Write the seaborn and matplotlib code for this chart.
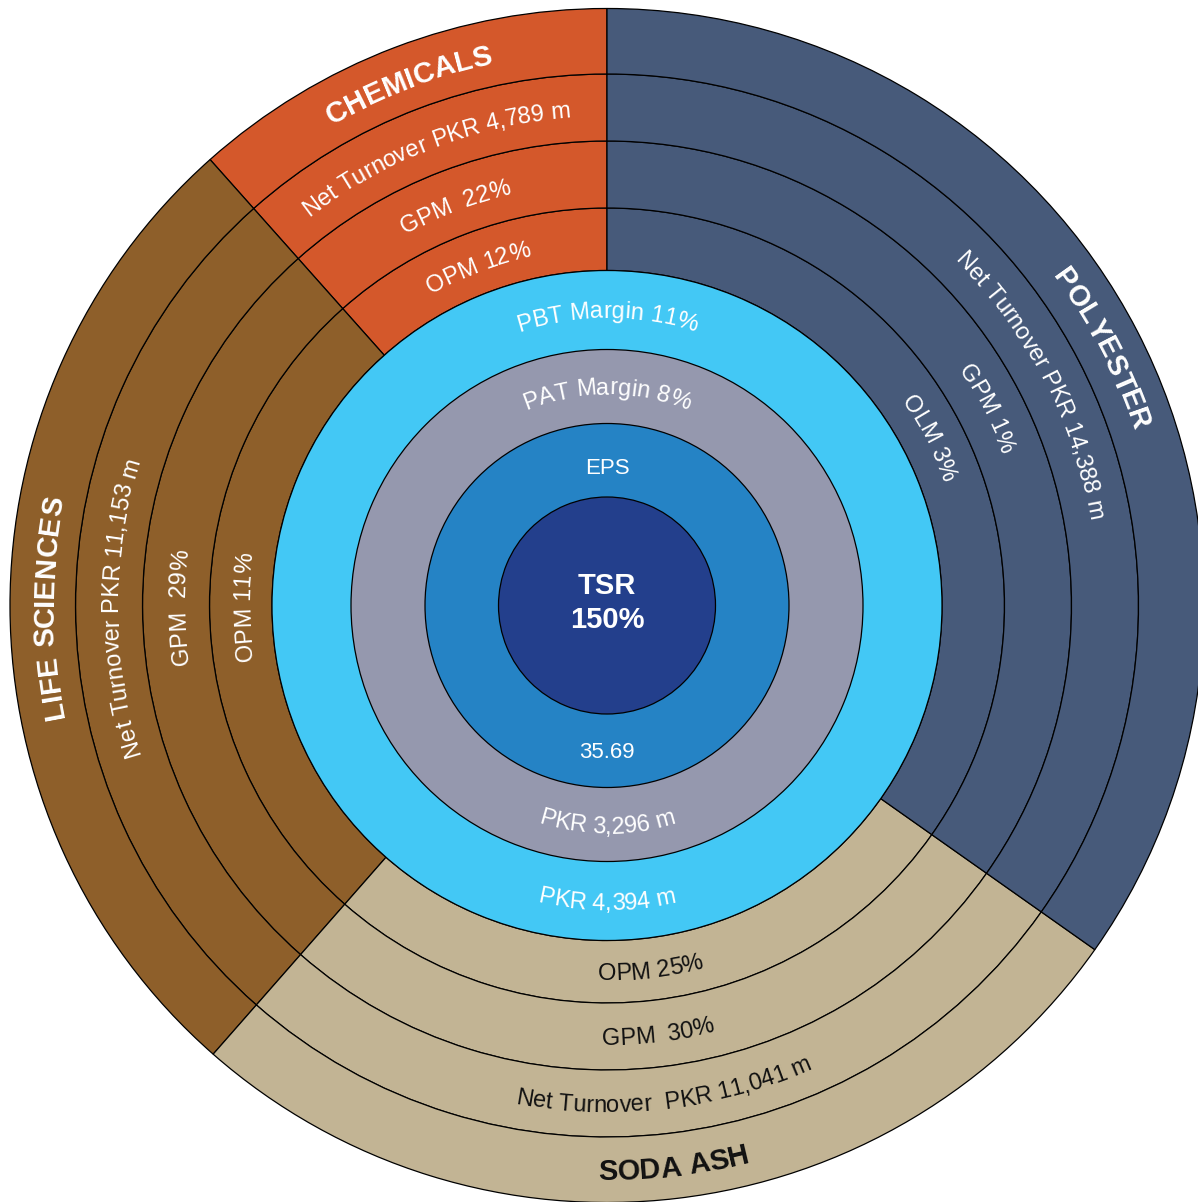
import numpy as np
import matplotlib
matplotlib.use("Agg")
import matplotlib.pyplot as plt
import seaborn as sns
from matplotlib.font_manager import FontProperties, findfont, get_font

# Business segments, sized by net turnover (PKR million)
segments = ["CHEMICALS", "LIFE SCIENCES", "SODA ASH", "POLYESTER"]
net_turnover = [4789, 11153, 11041, 14388]
gross_margin = [22, 29, 30, 1]          # GPM %
operating_margin = [12, 11, 25, 3]      # OPM / OLM %
operating_label = ["OPM", "OPM", "OPM", "OLM"]
gpm_gap = ["  ", "  ", "  ", " "]
turnover_gap = [" ", " ", "  ", " "]

# Group level figures
pbt_margin, pbt_value = 11, 4394
pat_margin, pat_value = 8, 3296
eps_value = 35.69
tsr_value = 150

segment_colors = ["#D4582B", "#8E5F2A", "#C2B494", "#475A7A"]
segment_text = ["white", "white", "#111111", "white"]
core_colors = ["#43C8F5", "#9598AE", "#2583C5", "#233F8C"]   # PBT, PAT, EPS, TSR

DPI = 100
W, H = 1198, 1202
CX, CY = 607, H - 605.5
core_radii = [335, 256, 182, 108.5]
ring_edges = [335, 397.5, 464.5, 531.5, 597]

sns.set_theme(style="white")
plt.rcParams["font.family"] = ["Liberation Sans", "DejaVu Sans"]

fig = plt.figure(figsize=(W / DPI, H / DPI), dpi=DPI)
ax = fig.add_axes([0, 0, 1, 1])
edge = dict(edgecolor="black", linewidth=0.9)

# Segment rings: OPM, GPM, turnover, name
for r_in, r_out in zip(ring_edges[:-1], ring_edges[1:]):
    ax.pie(net_turnover, radius=r_out, center=(CX, CY), startangle=90,
           counterclock=True, colors=segment_colors,
           wedgeprops=dict(width=r_out - r_in, **edge))

# Core discs: PBT, PAT, EPS, TSR
for r, c in zip(core_radii, core_colors):
    ax.pie([1], radius=r, center=(CX, CY), colors=[c], wedgeprops=edge)


def advances(text, fp):
    font = get_font(findfont(fp))
    font.set_size(fp.get_size_in_points(), DPI)
    return np.array([font.load_char(ord(ch)).linearHoriAdvance / 65536 for ch in text])


def arc_text(text, radius, angle, size, color, weight="normal", outward=True):
    """Write text along a circle; outward=True reads clockwise with tops outside."""
    fp = FontProperties(family=["Liberation Sans"], size=size, weight=weight)
    adv = advances(text, fp)
    offsets = np.cumsum(adv) - adv / 2 - adv.sum() / 2
    cap = 0.72 * size * DPI / 72
    rb = radius - cap / 2 if outward else radius + cap / 2
    th0 = np.radians(angle)
    for ch, d in zip(text, offsets):
        if ch == " ":
            continue
        if outward:
            th = th0 - d / rb
            rot = np.degrees(th) - 90
        else:
            th = th0 + d / rb
            rot = np.degrees(th) + 90
        ax.text(CX + rb * np.cos(th), CY + rb * np.sin(th), ch, rotation=rot,
                rotation_mode="anchor", ha="center", va="baseline",
                fontproperties=fp, color=color)


cum = np.concatenate([[0], np.cumsum(net_turnover)])
mids = 90 + 360 * (cum[:-1] + cum[1:]) / 2 / cum[-1]
ring_mid = [(a + b) / 2 for a, b in zip(ring_edges[:-1], ring_edges[1:])]

for i, name in enumerate(segments):
    outward = np.sin(np.radians(mids[i])) > -0.5
    labels = [
        f"{operating_label[i]} {operating_margin[i]}%",
        f"GPM{gpm_gap[i]}{gross_margin[i]}%",
        f"Net Turnover{turnover_gap[i]}PKR {net_turnover[i]:,} m",
    ]
    for lab, r in zip(labels, ring_mid[:3]):
        arc_text(lab, r, mids[i], 17, segment_text[i], outward=outward)
    arc_text(name, ring_mid[3], mids[i], 21, segment_text[i], weight="bold", outward=outward)

# Core labels
arc_text(f"PBT Margin {pbt_margin}%", 296, 90, 17, "white", outward=True)
arc_text(f"PKR {pbt_value:,} m", 296, 270, 17, "white", outward=False)
arc_text(f"PAT Margin {pat_margin}%", 219.5, 90, 17, "white", outward=True)
arc_text(f"PKR {pat_value:,} m", 219.5, 270, 17, "white", outward=False)
ax.text(CX, CY + 137, "EPS", ha="center", va="center", fontsize=16, color="white")
ax.text(CX, CY - 147, f"{eps_value:.2f}", ha="center", va="center", fontsize=16, color="white")
ax.text(CX, CY + 19, "TSR", ha="center", va="center", fontsize=21, fontweight="bold", color="white")
ax.text(CX, CY - 15, f"{tsr_value}%", ha="center", va="center", fontsize=21, fontweight="bold", color="white")

ax.set_xlim(0, W)
ax.set_ylim(0, H)
ax.set_aspect("equal")
ax.axis("off")
fig.savefig("out.png", dpi=DPI, facecolor="white")
